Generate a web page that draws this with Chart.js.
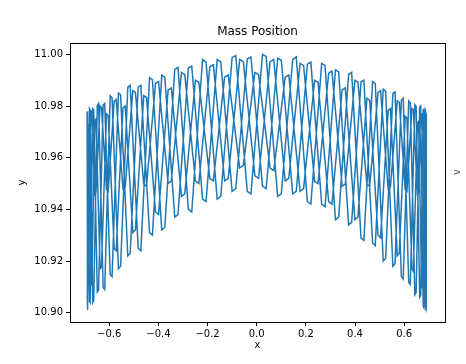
<!DOCTYPE html>
<html>
<head>
<meta charset="utf-8">
<script src="https://cdn.jsdelivr.net/npm/chart.js@4"></script>
<style>
  html, body { margin: 0; padding: 0; background: #fff; }
  canvas { display: block; }
</style>
</head>
<body>
<canvas id="massChart" width="466" height="364"></canvas>
<script>
// x of the samples around each turning point, swing going left -> right
const swingLR = [
  -0.690, -0.690,  -0.6878, -0.6865,  -0.6802, -0.6775,  -0.6671, -0.6631,
  -0.6486, -0.6434,  -0.6249, -0.6184,  -0.5961, -0.5885,  -0.5626, -0.5538,
  -0.5245, -0.5147,  -0.4823, -0.4715,  -0.4360, -0.4243,  -0.3863, -0.3739,
  -0.3335, -0.3204,  -0.2780, -0.2643,  -0.2203, -0.2061,  -0.1608, -0.1463,
  -0.1000, -0.0853,  -0.0384, -0.0235,  0.0235, 0.0384,  0.0853, 0.1000,
  0.1463, 0.1608,  0.2061, 0.2203,  0.2643, 0.2780,  0.3204, 0.3335,
  0.3739, 0.3863,  0.4243, 0.4360,  0.4715, 0.4823,  0.5147, 0.5245,
  0.5538, 0.5626,  0.5885, 0.5961,  0.6184, 0.6249,  0.6434, 0.6486,
  0.6631, 0.6671,  0.6775, 0.6802,  0.6865, 0.6878,  0.690, 0.690
];
// swing going right -> left
const swingRL = [
  0.6896, 0.6889,  0.6847, 0.6827,  0.6743, 0.6710,  0.6585, 0.6539,
  0.6374, 0.6315,  0.6111, 0.6041,  0.5800, 0.5718,  0.5441, 0.5348,
  0.5039, 0.4935,  0.4596, 0.4483,  0.4116, 0.3995,  0.3603, 0.3475,
  0.3061, 0.2927,  0.2494, 0.2355,  0.1907, 0.1764,  0.1305, 0.1159,
  0.0692, 0.0544,  0.0074, -0.0074,  -0.0544, -0.0692,  -0.1159, -0.1305,
  -0.1764, -0.1907,  -0.2355, -0.2494,  -0.2927, -0.3061,  -0.3475, -0.3603,
  -0.3995, -0.4116,  -0.4483, -0.4596,  -0.4935, -0.5039,  -0.5348, -0.5441,
  -0.5718, -0.5800,  -0.6041, -0.6111,  -0.6315, -0.6374,  -0.6539, -0.6585,
  -0.6710, -0.6743,  -0.6827, -0.6847,  -0.6889, -0.6896
];

// y of the mass at those samples, one array per swing
const pass1Y = [
  10.9775, 10.978,  10.9015, 10.901,  10.979, 10.9785,  10.904, 10.9048,
  10.9802, 10.981,  10.9098, 10.909,  10.984, 10.9832,  10.917, 10.918,
  10.9872, 10.988,  10.925, 10.924,  10.991, 10.9902,  10.932, 10.933,
  10.9942, 10.995,  10.940, 10.939,  10.998, 10.997,  10.944, 10.945,
  10.9988, 10.9995,  10.947, 10.946,  11.000, 10.9992,  10.945, 10.946,
  10.998, 10.999,  10.943, 10.942,  10.9965, 10.9957,  10.936, 10.937,
  10.9922, 10.993,  10.929, 10.928,  10.9895, 10.9887,  10.920, 10.921,
  10.9848, 10.9855,  10.914, 10.913,  10.982, 10.9813,  10.907, 10.9078,
  10.9795, 10.980,  10.9025, 10.902,  10.978, 10.9775,  10.901, 10.9012
];
const pass2Y = [
  10.976, 10.9755,  10.9445, 10.944,  10.977, 10.9765,  10.9465, 10.946,
  10.9785, 10.979,  10.947, 10.9476,  10.9814, 10.982,  10.9487, 10.948,
  10.986, 10.9853,  10.949, 10.9497,  10.9893, 10.990,  10.9498, 10.949,
  10.9935, 10.9927,  10.950, 10.9508,  10.9957, 10.9965,  10.952, 10.951,
  10.998, 10.9972,  10.952, 10.953,  10.9972, 10.998,  10.952, 10.951,
  10.996, 10.9952,  10.950, 10.951,  10.9922, 10.993,  10.951, 10.950,
  10.9895, 10.9888,  10.949, 10.9498,  10.9853, 10.986,  10.9488, 10.948,
  10.9825, 10.9818,  10.947, 10.9477,  10.9794, 10.980,  10.9466, 10.946,
  10.978, 10.9775,  10.945, 10.9455,  10.9765, 10.977
];
const pass3Y = [
  10.903, 10.9035,  10.9775, 10.978,  10.9045, 10.904,  10.979, 10.9785,
  10.908, 10.9087,  10.9804, 10.981,  10.9148, 10.914,  10.985, 10.9843,
  10.922, 10.923,  10.9873, 10.988,  10.931, 10.930,  10.992, 10.9912,
  10.937, 10.938,  10.9947, 10.9955,  10.944, 10.943,  10.998, 10.9972,
  10.947, 10.948,  10.9982, 10.999,  10.949, 10.948,  10.9985, 10.9977,
  10.946, 10.947,  10.9962, 10.997,  10.942, 10.941,  10.994, 10.9932,
  10.934, 10.935,  10.9893, 10.990,  10.927, 10.926,  10.9865, 10.9858,
  10.918, 10.919,  10.9823, 10.983,  10.9118, 10.911,  10.9805, 10.9798,
  10.906, 10.9067,  10.9785, 10.979,  10.9025, 10.902,  10.977, 10.9765
];
const pass4Y = [
  10.905, 10.9055,  10.9715, 10.972,  10.9107, 10.910,  10.974, 10.9734,
  10.916, 10.917,  10.9753, 10.976,  10.923, 10.922,  10.979, 10.9783,
  10.929, 10.930,  10.9823, 10.983,  10.937, 10.936,  10.987, 10.9862,
  10.942, 10.943,  10.9892, 10.990,  10.948, 10.947,  10.992, 10.9912,
  10.955, 10.956,  10.9922, 10.993,  10.957, 10.956,  10.992, 10.9912,
  10.951, 10.952,  10.9892, 10.990,  10.946, 10.945,  10.987, 10.9862,
  10.938, 10.939,  10.9833, 10.984,  10.932, 10.931,  10.980, 10.9793,
  10.924, 10.925,  10.9764, 10.977,  10.9178, 10.917,  10.975, 10.9744,
  10.911, 10.9117,  10.9725, 10.973,  10.9065, 10.906
];

const xTicks = [-0.6, -0.4, -0.2, 0.0, 0.2, 0.4, 0.6];
const yTicks = [10.90, 10.92, 10.94, 10.96, 10.98, 11.00];

const FONT = 'DejaVu Sans';

function minusSign(s) {
  return s.replace('-', '\u2212');
}

// join the swings into one path
const path = [];
[[swingLR, pass1Y], [swingRL, pass2Y], [swingLR, pass3Y], [swingRL, pass4Y]].forEach(function(pair) {
  pair[0].forEach(function(x, i) {
    path.push({ x: x, y: pair[1][i] });
  });
});

// frame, title and axis labels like matplotlib
const decorations = {
  id: 'decorations',
  afterDraw: function(chart) {
    const c = chart.ctx;
    const a = chart.chartArea;
    c.save();
    c.strokeStyle = '#000';
    c.lineWidth = 1;
    c.strokeRect(a.left + 0.5, a.top + 0.5, a.right - a.left, a.bottom - a.top);

    c.fillStyle = '#000';
    c.textAlign = 'center';
    c.textBaseline = 'middle';
    c.font = '12px "' + FONT + '"';
    c.fillText('Mass Position', (a.left + a.right) / 2, 32);

    c.font = '10px "' + FONT + '"';
    c.fillText('x', (a.left + a.right) / 2, 345);

    c.translate(22, (a.top + a.bottom) / 2);
    c.rotate(-Math.PI / 2);
    c.fillText('y', 0, 0);
    c.restore();

    // cut-off label of the neighbouring plot
    c.save();
    c.fillStyle = '#555';
    c.font = '10px "' + FONT + '"';
    c.textAlign = 'center';
    c.textBaseline = 'middle';
    c.translate(457, 172);
    c.rotate(-Math.PI / 2);
    c.fillText('v', 0, 0);
    c.restore();
  }
};

new Chart(document.getElementById('massChart'), {
  type: 'scatter',
  data: {
    datasets: [{
      label: 'mass',
      data: path,
      showLine: true,
      borderColor: '#1f77b4',
      backgroundColor: '#1f77b4',
      borderWidth: 1.5,
      pointRadius: 0,
      tension: 0
    }]
  },
  options: {
    responsive: false,
    animation: false,
    devicePixelRatio: 1,
    layout: { padding: { left: 0, top: 43, right: 21, bottom: 0 } },
    plugins: {
      legend: { display: false },
      tooltip: { enabled: false },
      title: { display: false }
    },
    scales: {
      x: {
        type: 'linear',
        min: -0.7596,
        max: 0.766,
        afterFit: function(scale) { scale.height = 42; },
        afterBuildTicks: function(scale) {
          scale.ticks = xTicks.map(function(v) { return { value: v }; });
        },
        grid: { drawOnChartArea: false, drawTicks: true, tickLength: 4, color: '#000' },
        border: { display: true, color: '#000' },
        ticks: {
          padding: 2,
          color: '#000',
          font: { family: FONT, size: 10 },
          maxRotation: 0,
          callback: function(v) { return minusSign(Number(v).toFixed(1)); }
        }
      },
      y: {
        type: 'linear',
        min: 10.8964,
        max: 11.0044,
        afterFit: function(scale) { scale.width = 70; },
        afterBuildTicks: function(scale) {
          scale.ticks = yTicks.map(function(v) { return { value: v }; });
        },
        grid: { drawOnChartArea: false, drawTicks: true, tickLength: 4, color: '#000' },
        border: { display: true, color: '#000' },
        ticks: {
          padding: 3,
          color: '#000',
          font: { family: FONT, size: 10 },
          callback: function(v) { return Number(v).toFixed(2); }
        }
      }
    }
  },
  plugins: [decorations]
});
</script>
</body>
</html>
